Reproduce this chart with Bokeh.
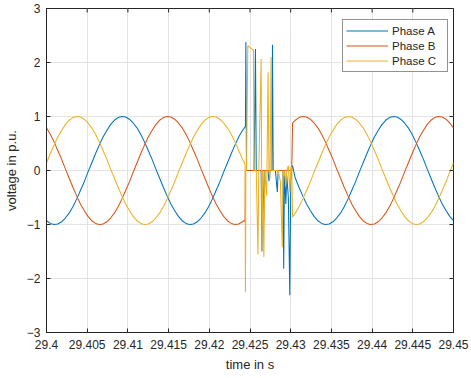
import numpy as np
from bokeh.plotting import figure
from bokeh.models import FixedTicker, Legend, LegendItem, Range1d
from bokeh.embed import file_html
from bokeh.resources import INLINE

# Phase voltages in p.u., recorded at 2160 Hz (36 samples per 60 Hz cycle)
FS = 2160.0
T0 = 29.4
PRE_FIRST = 0      # sample index of the first value before the fault
POST_FIRST = 66    # sample index of the first value after the fault

pre_a = [-0.93, -0.98, -1.00, -0.99, -0.95, -0.88, -0.79, -0.67, -0.53, -0.37, -0.21, -0.03,
         0.14, 0.31, 0.47, 0.62, 0.74, 0.85, 0.93, 0.98, 1.00,
         0.99, 0.95, 0.88, 0.79, 0.67, 0.53, 0.37, 0.21, 0.03, -0.14, -0.31, -0.47, -0.62,
         -0.74, -0.85, -0.93, -0.98, -1.00, -0.99, -0.95, -0.88, -0.79, -0.67, -0.53, -0.37,
         -0.21, -0.03, 0.14, 0.31, 0.47, 0.62, 0.74]
pre_b = [0.79, 0.67, 0.53, 0.37, 0.21, 0.03, -0.14, -0.31, -0.47, -0.62, -0.74, -0.85, -0.93,
         -0.98, -1.00, -0.99, -0.95, -0.88, -0.79, -0.67, -0.53, -0.37, -0.21, -0.03, 0.14,
         0.31, 0.47, 0.62, 0.74, 0.85, 0.93, 0.98, 1.00,
         0.99, 0.95, 0.88, 0.79, 0.67, 0.53, 0.37, 0.21, 0.03, -0.14, -0.31, -0.47, -0.62,
         -0.74, -0.85, -0.93, -0.98, -1.00, -0.99, -0.95]
pre_c = [0.14, 0.31, 0.47, 0.62, 0.74, 0.85, 0.93, 0.98, 1.00,
         0.99, 0.95, 0.88, 0.79, 0.67, 0.53, 0.37, 0.21, 0.03, -0.14, -0.31, -0.47, -0.62,
         -0.74, -0.85, -0.93, -0.98, -1.00, -0.99, -0.95, -0.88, -0.79, -0.67, -0.53, -0.37,
         -0.21, -0.03, 0.14, 0.31, 0.47, 0.62, 0.74, 0.85, 0.93, 0.98, 1.00,
         0.99, 0.95, 0.88, 0.79, 0.67, 0.53, 0.37, 0.21]

# Fault interval: irregular time stamps in s
fault_t = [29.42427, 29.42440, 29.42444, 29.42449, 29.42457, 29.42473, 29.42482, 29.42543,
           29.42550, 29.42567, 29.42577, 29.42598, 29.42608, 29.42637, 29.42647, 29.42656,
           29.42670, 29.42682, 29.42705, 29.42722, 29.42733, 29.42746, 29.42759, 29.42768,
           29.42776, 29.42785, 29.42812, 29.42836, 29.42846, 29.42873, 29.42897, 29.42906,
           29.42914, 29.42924, 29.42940, 29.42952, 29.42971, 29.42989, 29.43001, 29.43013,
           29.43023]
fault_a = [0.78, 0.81, 0.81, 2.38, 0.00, 0.00, 0.00, 0.00,
           0.00, 2.25, 0.00, 0.00, 0.00, 0.00, -1.50, 0.00,
           -0.90, 0.00, 0.00, 0.00, -0.20, 0.00, 0.00, 0.00,
           2.33, 0.00, 0.00, -0.40, 0.00, 0.00, 0.00, 0.00,
           -1.82, 0.00, -0.62, -0.10, -0.50, -2.31, -0.20, 0.06,
           0.09]
fault_b = [-0.93, -0.95, 0.00, 0.00, 0.00, 0.00, 0.00, 0.00,
           0.00, 0.00, 0.00, 0.00, 0.00, 0.00, 0.00, 0.00,
           0.00, 0.00, 0.00, 0.00, 0.00, 0.00, 0.00, 0.00,
           0.00, 0.00, 0.00, 0.00, 0.00, 0.00, 0.00, 0.00,
           0.00, 0.00, 0.00, 0.00, 0.00, 0.00, 0.00, 0.00,
           0.88]
fault_c = [0.16, 0.10, -2.25, 0.00, 0.00, 2.31, 2.30, 2.23,
           0.00, 0.00, 0.00, -1.55, 0.00, 2.07, -1.48, 0.00,
           -1.60, 0.00, -0.46, 1.82, 0.00, -0.15, 2.10, 0.00,
           0.00, 0.00, 0.00, 0.00, 0.00, -0.20, -1.42, 0.00,
           -0.10, 0.00, -0.30, 0.00, 0.09, -0.40, 0.05, 0.06,
           -0.86]

post_a = [-0.14, -0.31, -0.47, -0.62, -0.74, -0.85, -0.93, -0.98, -1.00, -0.99, -0.95, -0.88,
          -0.79, -0.67, -0.53, -0.37, -0.21, -0.03, 0.14, 0.31, 0.47, 0.62, 0.74, 0.85, 0.93,
          0.98, 1.00,
          0.99, 0.95, 0.88, 0.79, 0.67, 0.53, 0.37, 0.21, 0.03, -0.14, -0.31, -0.47, -0.62,
          -0.74, -0.85, -0.93]
post_b = [0.93, 0.98, 1.00,
          0.99, 0.95, 0.88, 0.79, 0.67, 0.53, 0.37, 0.21, 0.03, -0.14, -0.31, -0.47, -0.62,
          -0.74, -0.85, -0.93, -0.98, -1.00, -0.99, -0.95, -0.88, -0.79, -0.67, -0.53, -0.37,
          -0.21, -0.03, 0.14, 0.31, 0.47, 0.62, 0.74, 0.85, 0.93, 0.98, 1.00,
          0.99, 0.95, 0.88, 0.79]
post_c = [-0.79, -0.67, -0.53, -0.37, -0.21, -0.03, 0.14, 0.31, 0.47, 0.62, 0.74, 0.85, 0.93,
          0.98, 1.00,
          0.99, 0.95, 0.88, 0.79, 0.67, 0.53, 0.37, 0.21, 0.03, -0.14, -0.31, -0.47, -0.62,
          -0.74, -0.85, -0.93, -0.98, -1.00, -0.99, -0.95, -0.88, -0.79, -0.67, -0.53, -0.37,
          -0.21, -0.03, 0.14]

phase_names = ["Phase A", "Phase B", "Phase C"]
phase_colors = ["#0072BD", "#D95319", "#EDB120"]

x_ticks = [29.4, 29.405, 29.41, 29.415, 29.42, 29.425, 29.43, 29.435, 29.44, 29.445, 29.45]
x_tick_labels = ["29.4", "29.405", "29.41", "29.415", "29.42", "29.425", "29.43",
                 "29.435", "29.44", "29.445", "29.45"]
y_ticks = [-3, -2, -1, 0, 1, 2, 3]

FONT = "Liberation Sans"
INK = "#262626"
GRID = "#e3e3e3"


def sample_times(first, count):
    return T0 + (first + np.arange(count)) / FS


def assemble(pre, fault, post):
    t = np.concatenate([sample_times(PRE_FIRST, len(pre)), fault_t,
                        sample_times(POST_FIRST, len(post))])
    v = np.concatenate([pre, fault, post])
    return t, v


p = figure(width=471, height=378, output_backend="svg", toolbar_location=None,
           x_range=Range1d(29.4, 29.45), y_range=Range1d(-3, 3),
           min_border_left=44, min_border_right=18, min_border_top=8, min_border_bottom=46)
p.background_fill_color = "white"
p.border_fill_color = "white"
p.outline_line_color = INK
p.outline_line_width = 1

series = [assemble(pre_a, fault_a, post_a),
          assemble(pre_b, fault_b, post_b),
          assemble(pre_c, fault_c, post_c)]
renderers = []
for (t, v), col in zip(series, phase_colors):
    renderers.append(p.line(t, v, line_color=col, line_width=1.05))

xt = FixedTicker(ticks=x_ticks)
yt = FixedTicker(ticks=y_ticks)
p.xaxis.ticker = xt
p.yaxis.ticker = yt
p.xaxis.major_label_overrides = {v: s for v, s in zip(x_ticks, x_tick_labels)}
p.xaxis.axis_label = "time in s"
p.yaxis.axis_label = "voltage in p.u."

for ax in [p.xaxis[0], p.yaxis[0]]:
    ax.axis_line_color = INK
    ax.major_tick_line_color = INK
    ax.major_tick_in = 4
    ax.major_tick_out = 0
    ax.minor_tick_line_color = None
    ax.major_label_text_font = FONT
    ax.major_label_text_font_size = "12px"
    ax.major_label_text_color = INK
    ax.axis_label_text_font = FONT
    ax.axis_label_text_font_size = "13px"
    ax.axis_label_text_font_style = "normal"
    ax.axis_label_text_color = INK
p.xaxis.major_label_standoff = 7
p.yaxis.major_label_standoff = 6
p.xaxis.axis_label_standoff = 5
p.yaxis.axis_label_standoff = 5

# inward tick marks along the top and right edges of the box (clipped to the frame)
p.scatter(x=x_ticks, y=[p.y_range.end] * len(x_ticks), marker="dash", angle=np.pi / 2,
          size=8, line_color=INK, line_width=1)
p.scatter(x=[p.x_range.end] * len(y_ticks), y=y_ticks, marker="dash",
          size=8, line_color=INK, line_width=1)

p.xgrid.ticker = xt
p.ygrid.ticker = yt
p.xgrid.grid_line_color = GRID
p.ygrid.grid_line_color = GRID

legend = Legend(items=[LegendItem(label=n, renderers=[r]) for n, r in zip(phase_names, renderers)],
                location=(296, 260), margin=0, padding=3, spacing=0,
                glyph_width=42, glyph_height=15, label_height=15, label_width=52,
                label_standoff=4, label_text_font=FONT, label_text_font_size="11.5px",
                label_text_color=INK, border_line_color=INK, border_line_width=1,
                background_fill_color="white", background_fill_alpha=1)
p.add_layout(legend)

open("out.html", "w").write(file_html(p, INLINE))
